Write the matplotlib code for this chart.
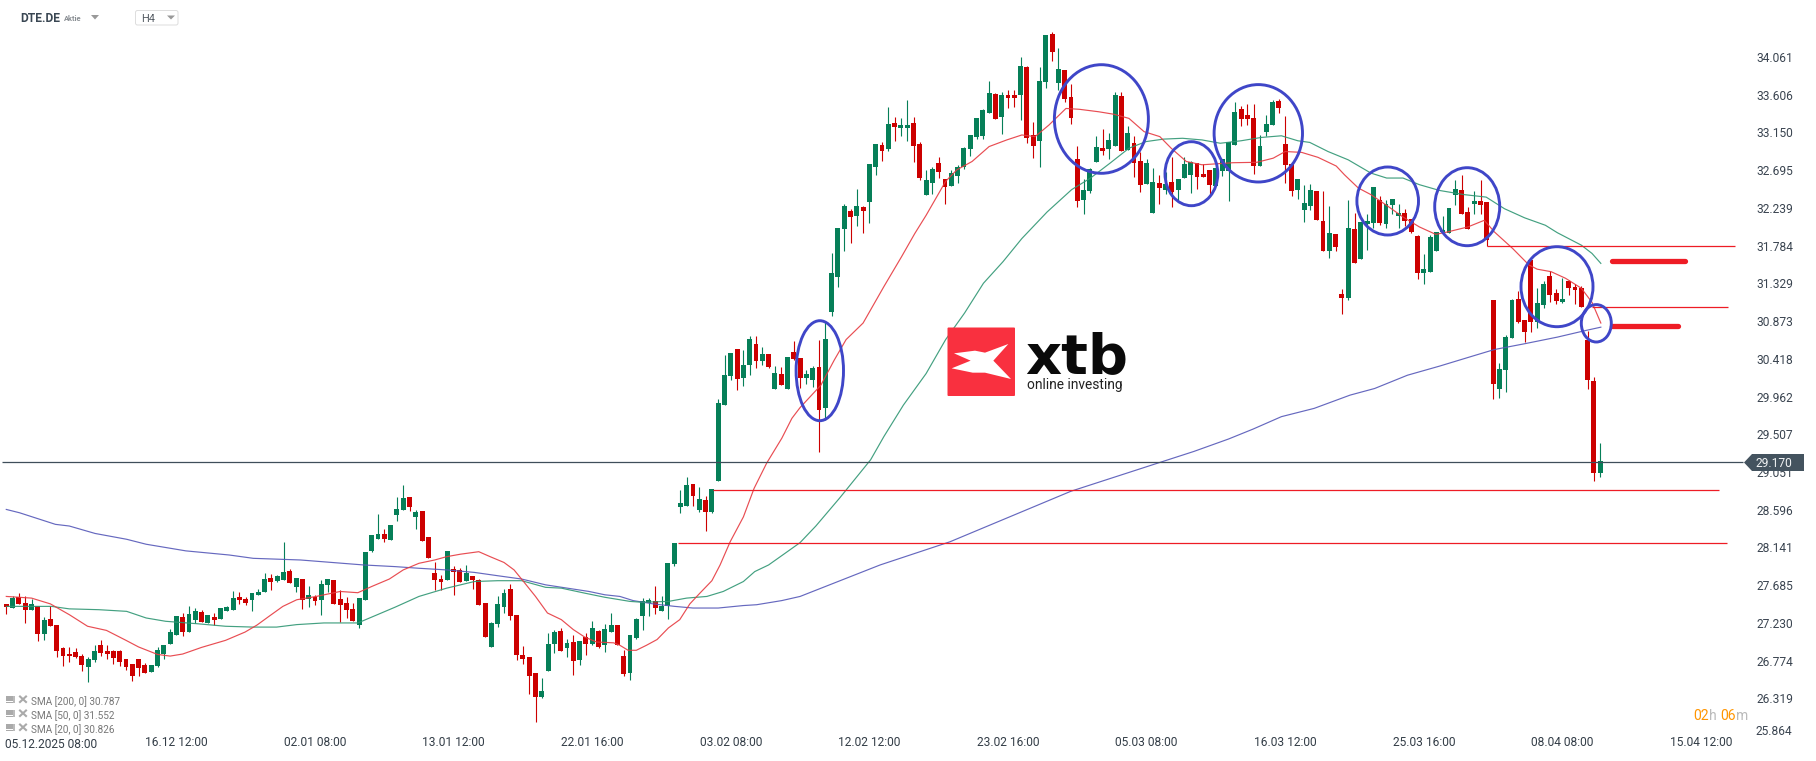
import numpy as np
import matplotlib
matplotlib.use("Agg")
import matplotlib.pyplot as plt
from matplotlib.patches import Ellipse, Polygon, Rectangle, FancyBboxPatch

plt.rcParams['font.family'] = ['Roboto', 'DejaVu Sans']

# R = falling candle, G = rising candle, ten to a group
direction = ("RGRRGRGRRR RRRGGRRRRR RRRGGGGGRG GRGRGGGRRG GGRGGRGRGR GGRRRRGGGG RGGGRGRRRR GRRGRRRGGG RRRRRGGGRG RGRGRGGRRG "
             "GGGRGGGGGR GRGGGGRGGR GRGRGRRGGR GGGGRGRGGR GRGGRRGGRR GGGGGGGRGR RGRRGGRGRR RGGGRGGRGR RGGRGRGGGR RRGGGGRRRG "
             "GGRRRGGGRR GRRGRGGGRG GGRRRGGGGG GRRGRRRGGG RRRGGRRGRR RRRG").replace(" ", "")
highs = [27.46,27.55,27.59,27.55,27.52,27.43,27.30,27.43,27.20,26.94,26.94,26.93,26.86,26.82,26.96,27.02,26.96,26.90,26.90,26.79,
         26.74,26.79,26.75,26.72,26.94,26.96,27.16,27.31,27.35,27.43,27.41,27.39,27.33,27.35,27.41,27.44,27.62,27.60,27.54,27.59,
         27.64,27.83,27.82,27.81,28.21,27.88,27.77,27.76,27.68,27.57,27.75,27.76,27.75,27.63,27.54,27.47,27.53,28.09,28.29,28.55,
         28.36,28.41,28.75,28.89,28.75,28.59,28.58,28.27,27.97,27.81,28.10,27.92,27.89,27.93,27.80,27.76,27.47,27.24,27.55,27.64,
         27.70,27.33,26.95,26.82,26.63,26.57,27.11,27.14,27.17,27.04,27.08,27.01,27.11,27.25,27.14,27.22,27.35,27.20,26.90,27.08,
         27.29,27.53,27.53,27.67,27.55,27.95,28.19,28.83,28.99,28.91,28.87,28.76,28.85,29.93,30.46,30.49,30.54,30.52,30.69,30.69,
         30.56,30.48,30.33,30.32,30.44,30.63,30.43,30.28,30.33,30.65,30.86,31.70,32.00,32.29,32.23,32.47,32.26,32.77,33.01,33.04,
         33.46,33.34,33.32,33.54,33.34,33.04,32.70,32.73,32.85,32.59,32.70,32.76,32.98,33.12,33.32,33.43,33.77,33.63,33.64,33.66,
         33.66,34.06,33.95,33.28,33.94,34.33,34.36,34.17,33.90,33.74,32.99,32.59,32.72,33.11,33.19,33.14,33.64,33.64,33.23,33.11,
         32.91,32.83,32.72,32.64,32.67,32.85,32.59,32.85,32.80,32.78,32.77,32.70,32.72,32.83,33.03,33.52,33.47,33.49,33.49,33.12,
         33.36,33.54,33.55,33.35,32.77,32.59,32.52,32.53,32.44,32.44,32.26,31.92,31.26,32.33,32.18,32.07,32.17,32.49,32.38,32.33,
         32.35,32.29,32.23,32.10,31.91,31.68,31.91,31.95,32.14,32.24,32.58,32.64,32.25,32.44,32.58,32.31,31.13,30.37,30.70,31.14,
         31.24,30.89,31.61,31.27,31.36,31.48,31.26,31.39,31.37,31.32,31.30,30.75,30.20,29.40]
body_top = [27.46,27.53,27.54,27.47,27.46,27.43,27.27,27.28,27.20,26.93,26.86,26.88,26.83,26.79,26.89,26.96,26.89,26.89,26.89,26.79,
            26.73,26.79,26.72,26.72,26.90,26.96,27.12,27.31,27.30,27.34,27.37,27.36,27.33,27.30,27.41,27.42,27.53,27.54,27.52,27.59,
            27.60,27.76,27.77,27.80,27.84,27.86,27.77,27.76,27.57,27.54,27.70,27.76,27.75,27.52,27.47,27.40,27.53,28.09,28.29,28.30,
            28.30,28.41,28.60,28.74,28.75,28.57,28.58,28.27,27.83,27.76,28.10,27.88,27.87,27.83,27.80,27.75,27.47,27.23,27.46,27.59,
            27.64,27.33,26.84,26.82,26.63,26.41,26.98,27.12,27.13,26.99,27.00,27.01,27.06,27.17,27.13,27.16,27.20,27.20,26.83,27.08,
            27.28,27.49,27.51,27.50,27.43,27.95,28.19,28.68,28.89,28.91,28.73,28.71,28.85,29.88,30.22,30.49,30.54,30.34,30.66,30.60,
            30.48,30.48,30.25,30.23,30.44,30.50,30.43,30.23,30.31,30.32,30.66,31.45,32.00,32.26,32.20,32.26,32.25,32.77,33.01,33.00,
            33.25,33.26,33.24,33.24,33.26,33.01,32.58,32.71,32.78,32.59,32.66,32.73,32.96,33.12,33.32,33.42,33.63,33.61,33.60,33.60,
            33.60,33.95,33.94,33.12,33.77,34.33,34.34,33.92,33.90,33.58,32.83,32.46,32.71,32.98,32.96,33.06,33.60,33.59,33.14,33.02,
            32.81,32.78,32.55,32.54,32.53,32.55,32.59,32.77,32.79,32.78,32.65,32.70,32.72,32.83,33.03,33.40,33.43,33.36,33.32,32.99,
            33.25,33.52,33.53,33.01,32.77,32.59,32.30,32.45,32.44,32.08,31.94,31.92,31.20,32.00,31.98,32.07,32.08,32.49,32.33,32.29,
            32.35,32.18,32.18,32.10,31.90,31.50,31.89,31.95,31.97,32.24,32.47,32.45,32.19,32.32,32.32,32.31,31.13,30.30,30.68,31.13,
            31.14,30.89,31.61,31.09,31.32,31.42,31.21,31.14,31.36,31.29,31.27,30.65,30.15,29.18]
body_bottom = [27.42,27.41,27.46,27.39,27.39,27.10,27.10,27.19,26.89,26.83,26.83,26.82,26.72,26.70,26.78,26.87,26.85,26.81,26.76,26.70,
               26.59,26.69,26.63,26.64,26.71,26.86,26.98,27.08,27.12,27.12,27.27,27.24,27.23,27.27,27.28,27.37,27.39,27.51,27.47,27.51,
               27.57,27.60,27.72,27.74,27.75,27.71,27.66,27.51,27.52,27.49,27.51,27.69,27.46,27.45,27.39,27.25,27.20,27.51,28.10,28.24,
               28.24,28.23,28.53,28.59,28.63,28.51,28.22,28.01,27.75,27.72,27.75,27.84,27.72,27.74,27.75,27.45,27.06,26.94,27.22,27.42,
               27.31,26.84,26.79,26.59,26.34,26.34,26.65,26.98,26.89,26.93,26.77,26.78,26.98,26.98,26.94,26.96,27.12,26.96,26.61,26.63,
               27.05,27.31,27.47,27.41,27.37,27.43,27.94,28.63,28.64,28.76,28.59,28.57,28.57,28.94,29.86,30.21,30.17,30.19,30.34,30.39,
               30.39,30.32,30.05,30.10,30.05,30.42,30.19,30.19,30.16,29.80,29.82,30.98,31.41,31.99,32.13,32.14,32.20,32.31,32.73,32.93,
               32.95,33.22,33.20,33.20,32.99,32.60,32.40,32.54,32.67,32.49,32.50,32.62,32.73,32.95,33.10,33.11,33.39,33.31,33.34,33.57,
               33.57,33.60,33.08,32.99,33.05,33.76,34.12,33.75,33.55,33.33,32.32,32.34,32.44,32.79,32.93,32.95,32.99,32.93,32.94,32.78,
               32.52,32.53,32.18,32.48,32.46,32.43,32.46,32.60,32.64,32.61,32.61,32.52,32.50,32.68,32.68,33.00,33.31,33.31,32.74,32.74,
               33.15,33.24,33.44,32.76,32.44,32.46,32.21,32.26,32.09,31.72,31.72,31.77,31.15,31.15,31.57,31.62,32.05,32.06,32.06,32.05,
               32.27,32.14,32.08,31.95,31.45,31.45,31.47,31.72,31.95,31.94,32.40,32.17,31.98,32.29,32.27,31.85,30.11,30.05,30.28,30.67,
               30.86,30.74,30.86,30.86,31.07,31.19,31.12,31.10,31.27,31.25,31.04,30.16,29.04,29.04]
lows = [27.34,27.41,27.46,27.23,27.39,27.01,27.02,27.19,26.82,26.71,26.76,26.81,26.65,26.52,26.76,26.83,26.79,26.74,26.71,26.66,
        26.53,26.59,26.62,26.64,26.70,26.79,26.98,27.08,27.07,27.12,27.23,27.24,27.23,27.20,27.28,27.37,27.39,27.46,27.45,27.37,
        27.57,27.60,27.63,27.72,27.75,27.71,27.60,27.40,27.42,27.45,27.32,27.60,27.46,27.24,27.29,27.25,27.17,27.51,28.09,28.24,
        28.21,28.23,28.46,28.59,28.58,28.36,28.22,28.01,27.63,27.63,27.75,27.57,27.72,27.74,27.64,27.45,27.06,26.94,27.18,27.35,
        27.26,26.78,26.73,26.37,26.03,26.32,26.65,26.87,26.89,26.82,26.60,26.72,26.84,26.96,26.93,26.88,27.12,26.96,26.59,26.54,
        27.04,27.14,27.31,27.34,27.37,27.28,27.92,28.56,28.64,28.64,28.57,28.34,28.56,28.94,29.86,30.16,30.04,30.09,30.22,30.31,
        30.34,30.31,30.05,30.10,30.05,30.40,30.06,30.11,30.08,29.29,29.68,30.94,31.29,31.72,31.82,32.02,31.94,32.06,32.64,32.81,
        32.93,33.05,33.11,33.05,32.79,32.58,32.40,32.41,32.60,32.29,32.50,32.54,32.71,32.87,33.07,33.07,33.39,33.31,33.13,33.45,
        33.46,33.30,33.02,32.84,32.73,33.69,34.01,33.66,33.52,33.25,32.25,32.17,32.42,32.79,32.88,32.83,32.99,32.93,32.94,32.61,
        32.43,32.53,32.18,32.29,32.41,32.25,32.34,32.60,32.42,32.47,32.61,32.41,32.50,32.62,32.32,33.00,33.23,33.24,32.65,32.74,
        33.11,33.24,33.38,32.54,32.38,32.35,32.07,32.21,32.09,31.72,31.63,31.72,30.96,31.13,31.57,31.62,31.73,32.00,32.03,32.00,
        32.17,32.00,32.02,31.94,31.38,31.32,31.47,31.72,31.94,31.94,32.27,32.17,31.98,32.17,32.17,31.78,29.93,29.95,30.02,30.67,
        30.85,30.62,30.74,30.79,31.03,31.10,31.08,31.09,31.19,31.08,31.04,30.05,28.94,28.99]

sma20_x = [1,5,8,11,13.9,16.9,20,22,25,27,29,32,35.8,38.9,40.8,42.7,44.9,47.1,50.2,54,56.8,59,61.8,64,66.5,69,70.9,73.1,76,77.8,80,
           81.6,83.1,85,86.9,89.1,91,92.8,94.7,97.4,98.4,99.7,101,102.6,104.3,106.1,107.9,109.5,111.1,113,114.3,115.9,118,119.7,121.7,
           124.1,125.7,127,130.3,132.4,134.3,137,140.3,143.1,145.2,147,150.1,151.9,154.3,157,159.8,162.2,164.3,166.5,169.2,171.3,174.4,
           176.8,179.2,181.6,184.1,185.9,188.3,190.8,195.7,199.5,202.1,204,206.6,209.2,212.1,213.4,215.6,217.6,220.1,222.7,225.3,227.9,
           229.8,233,235.6,237.2,240.1,242.7,244,246.2,248.5,251,252.7,254.1]
sma20 = [27.55,27.53,27.46,27.33,27.19,27.14,27.02,26.94,26.85,26.83,26.855,26.935,27.02,27.12,27.205,27.31,27.43,27.51,27.55,27.61,27.595,
         27.67,27.76,27.87,27.95,27.99,28.03,28.06,28.09,28.03,27.96,27.87,27.73,27.55,27.35,27.27,27.15,27.06,27.0,26.99,26.96,26.90,26.90,
         26.96,27.03,27.17,27.27,27.46,27.59,27.74,27.93,28.21,28.51,28.855,29.16,29.46,29.70,29.83,30.10,30.40,30.65,30.85,31.29,31.65,31.93,
         32.15,32.56,32.70,32.80,32.98,33.06,33.12,33.10,33.24,33.44,33.43,33.40,33.37,33.32,33.16,33.10,32.96,32.80,32.76,32.785,32.79,32.84,
         32.92,32.91,32.85,32.745,32.64,32.48,32.40,32.27,32.13,32.01,31.92,31.95,32.01,32.09,31.95,31.75,31.55,31.50,31.47,31.39,31.27,31.10,30.85]

sma50_x = [1,8.2,11,15.7,20.1,23.2,26.3,31.4,35.8,40.2,43.9,47.1,51.4,56.8,59.6,62.7,66.5,70.9,75.3,79,82.8,86.6,89.1,92.8,96,98.4,100,101.9,
           106.1,109,112.2,114.8,118,119.8,122,124.6,127,129.5,133.3,138.2,140.3,143.4,147,150.1,153.1,156.1,159.2,162.2,166.2,170.1,173.1,176.2,
           179.2,181.9,184.7,187.7,190.8,193.7,197,200.2,203.4,206,207.9,210.8,214,217.6,220.1,222.7,225.3,228.5,232.4,235.9,238.8,242,245.3,247.2,
           251,252.7,254.1]
sma50 = [27.43,27.43,27.40,27.39,27.37,27.29,27.25,27.22,27.19,27.18,27.18,27.21,27.23,27.23,27.32,27.42,27.55,27.65,27.73,27.74,27.74,27.66,
         27.65,27.59,27.54,27.51,27.49,27.48,27.49,27.53,27.55,27.61,27.73,27.85,27.93,28.07,28.20,28.40,28.74,29.20,29.48,29.86,30.24,30.65,30.97,
         31.33,31.59,31.87,32.19,32.46,32.60,32.78,32.96,33.04,33.07,33.08,33.06,33.02,33.05,33.09,33.11,33.05,33.03,32.92,32.82,32.66,32.60,32.60,
         32.52,32.45,32.40,32.37,32.23,32.12,32.03,31.94,31.79,31.69,31.57]

sma200_x = [1,3.1,8.8,11,15.1,20.1,23.2,29.5,36.4,40.2,47.7,52.7,57.7,62.7,66.5,70.9,75.3,79,82.8,86.6,93.5,96,98.4,100.5,103.7,107.1,110,114,118,
            120.1,124.1,127,139.7,150.8,170,183.8,189.5,195,198.9,203.4,208.6,214.3,218.2,223.4,228.5,233.7,237.2,242,247.2,251.7,254.1]
sma200 = [28.60,28.56,28.42,28.40,28.31,28.24,28.18,28.10,28.05,28.01,27.99,27.96,27.93,27.91,27.89,27.87,27.84,27.80,27.76,27.69,27.61,27.57,27.55,
          27.50,27.46,27.43,27.41,27.41,27.44,27.45,27.50,27.55,27.93,28.21,28.82,29.16,29.30,29.45,29.57,29.72,29.82,29.98,30.06,30.22,30.33,30.45,30.53,
          30.60,30.68,30.76,30.80]

y_ticks = [34.061,33.606,33.150,32.695,32.239,31.784,31.329,30.873,30.418,29.962,29.507,29.051,28.596,28.141,27.685,27.230,26.774,26.319]
x_tick_pos = [28,50,72,94,116,138,160,182,204,226,248,270]
x_tick_labels = ["16.12 12:00","02.01 08:00","13.01 12:00","22.01 16:00","03.02 08:00","12.02 12:00","23.02 16:00",
                 "05.03 08:00","16.03 12:00","25.03 16:00","08.04 08:00","15.04 12:00"]
current_price = 29.170

# drawn rays: price, first bar, last bar
ray_price = [28.20, 28.83, 31.78, 31.04]
ray_start = [107.6, 113.2, 236.1, 252.7]
ray_end = [274.1, 272.9, 275.4, 274.3]
mark_price = [31.595, 30.81]
mark_start = [255.9, 255.9]
mark_end = [267.5, 266.4]

# hand drawn circles, centre and half sizes in pixels of the picture
circ_x = [819.8, 1101.4, 1191.4, 1258.3, 1387.7, 1467.2, 1557, 1596.3]
circ_y = [370.7, 119, 173.7, 133.3, 201, 206.7, 286.7, 323.3]
circ_w = [23.7, 47, 26.4, 44.2, 30.8, 32.5, 36, 15]
circ_h = [50, 54.3, 32, 48.7, 34, 39, 40, 18.7]

legend_rows = ["SMA [200, 0] 30.787", "SMA [50, 0] 31.552", "SMA [20, 0] 30.826"]

W, H = 1816, 761
PX = 0.72
RED, GREEN = "#cc0000", "#067f58"

fig = plt.figure(figsize=(W / 100, H / 100), dpi=100, facecolor="white")
ax = fig.add_axes([0, (H - 735) / H, 1750 / W, 735 / H])
ax.set_xlim(0, 1750 / 6.3)
ax.set_ylim(29.507 - (735 - 434.3) / 82.85, 29.507 + 434.3 / 82.85)
for s in ax.spines.values():
    s.set_visible(False)

n = np.arange(1, len(highs) + 1)
cols = [GREEN if d == "G" else RED for d in direction]
ax.vlines(n, lows, highs, colors=cols, lw=0.8, zorder=2)
ax.bar(n, np.array(body_top) - np.array(body_bottom), bottom=body_bottom, width=0.78, color=cols, lw=0, zorder=3)

ax.plot(sma200_x, sma200, color="#5558b8", lw=0.85, alpha=0.9, zorder=4)
ax.plot(sma50_x, sma50, color="#2f9673", lw=0.85, alpha=0.9, zorder=4)
ax.plot(sma20_x, sma20, color="#e63a40", lw=0.85, alpha=0.9, zorder=5)

ax.hlines(ray_price, ray_start, ray_end, colors="#ee1c25", lw=0.9, zorder=5)
ax.hlines(mark_price, mark_start, mark_end, colors="#ee1c25", lw=3.8, zorder=5, capstyle="round")
ax.hlines(current_price, 0.3, 276.7, colors="#3f4e5a", lw=0.9, zorder=6)

ax.yaxis.tick_right()
ax.set_yticks(y_ticks)
ax.set_yticklabels(["%.3f" % v for v in y_ticks])
ax.set_xticks(x_tick_pos)
ax.set_xticklabels(x_tick_labels)
ax.tick_params(axis="y", length=0, pad=4.5, labelsize=12 * PX, labelcolor="#3a4450")
ax.tick_params(axis="x", length=0, pad=1.0, labelsize=12 * PX, labelcolor="#333d47")

# everything that sits on the chart window itself, in picture pixels
ov = fig.add_axes([0, 0, 1, 1], facecolor="none")
ov.set_xlim(0, W)
ov.set_ylim(H, 0)
ov.axis("off")

for cx, cy, w, h in zip(circ_x, circ_y, circ_w, circ_h):
    ov.add_patch(Ellipse((cx, cy), 2 * w, 2 * h, fill=False, ec="#3f46c8", lw=2.1, zorder=7))

# price box
ov.add_patch(Polygon([(1744, 462.5), (1752, 454), (1804, 454), (1804, 471), (1752, 471)], color="#44535f", lw=0, zorder=8))
ov.text(1756, 463.5, "%.3f" % current_price, color="#f2f4f5", fontsize=12 * PX, va="center", ha="left", zorder=9)
ov.text(1756, 731.5, "25.864", color="#3a4450", fontsize=12 * PX, va="center", ha="left")
ov.text(5, 745, "05.12.2025 08:00", color="#333d47", fontsize=12 * PX, va="center", ha="left")

# logo
ov.add_patch(FancyBboxPatch((947.5, 327.5), 67.5, 68.5, boxstyle="round,pad=0,rounding_size=1", color="#f9303f", lw=0, zorder=7))
wing = [(72, 130), (135, 122), (165, 128), (235, 102), (190, 152), (243, 207), (165, 188), (128, 188), (65, 175), (122, 152)]
ov.add_patch(Polygon([(930 + a / 3, 310 + b / 3) for a, b in wing], color="white", lw=0, zorder=8))
ov.text(1025, 373.5, "xtb", family="DejaVu Sans", weight="bold", fontsize=56 * PX, color="#0a0a0a", va="baseline", ha="left", zorder=7)
ov.text(1027, 385, "online investing", fontsize=13.8 * PX, color="#222222", va="center", ha="left", zorder=7)

# header
ov.text(20, 18.5, "DTE.DE", weight="bold", fontsize=12 * PX, color="#3a4753", va="center", ha="left")
ov.text(64, 19, "Aktie", fontsize=7.5 * PX, color="#8a8f94", weight="bold", va="center", ha="left")
ov.add_patch(Polygon([(91, 15), (99, 15), (95, 19.5)], color="#999999", lw=0))
ov.add_patch(FancyBboxPatch((135.5, 10.5), 42.5, 14.5, boxstyle="round,pad=0,rounding_size=2", fc="white", ec="#dddddd", lw=0.7))
ov.text(141, 19, "H4", fontsize=11 * PX, color="#555c63", va="center", ha="left")
ov.add_patch(Polygon([(167, 15.5), (175, 15.5), (171, 19.5)], color="#999999", lw=0))

# indicator legend, bottom left
for i, row in enumerate(legend_rows):
    y = 701 + 14 * i
    ov.add_patch(Rectangle((6, y - 5), 7, 3.5, color="#aaaaaa", lw=0))
    ov.add_patch(Rectangle((6, y - 1), 7, 1, color="#aaaaaa", lw=0))
    ov.add_patch(Rectangle((6, y + 1), 7, 1, color="#aaaaaa", lw=0))
    ov.add_patch(Rectangle((13, y - 5), 1.5, 7, color="#bbbbbb", lw=0))
    ov.plot([20, 26], [y - 4.5, y + 1], color="#aaaaaa", lw=1.5)
    ov.plot([20, 26], [y + 1, y - 4.5], color="#aaaaaa", lw=1.5)
    ov.text(31, y + 0.5, row, fontsize=10 * PX, color="#777777", va="center", ha="left")

# countdown
ov.text(1693, 716, "02", fontsize=14 * PX, color="#ff9500", va="center", ha="left")
ov.text(1709, 716, "h", fontsize=14 * PX, color="#bbbbbb", va="center", ha="left")
ov.text(1720, 716, "06", fontsize=14 * PX, color="#ff9500", va="center", ha="left")
ov.text(1736, 716, "m", fontsize=14 * PX, color="#bbbbbb", va="center", ha="left")

fig.savefig("out.png", dpi=100)
